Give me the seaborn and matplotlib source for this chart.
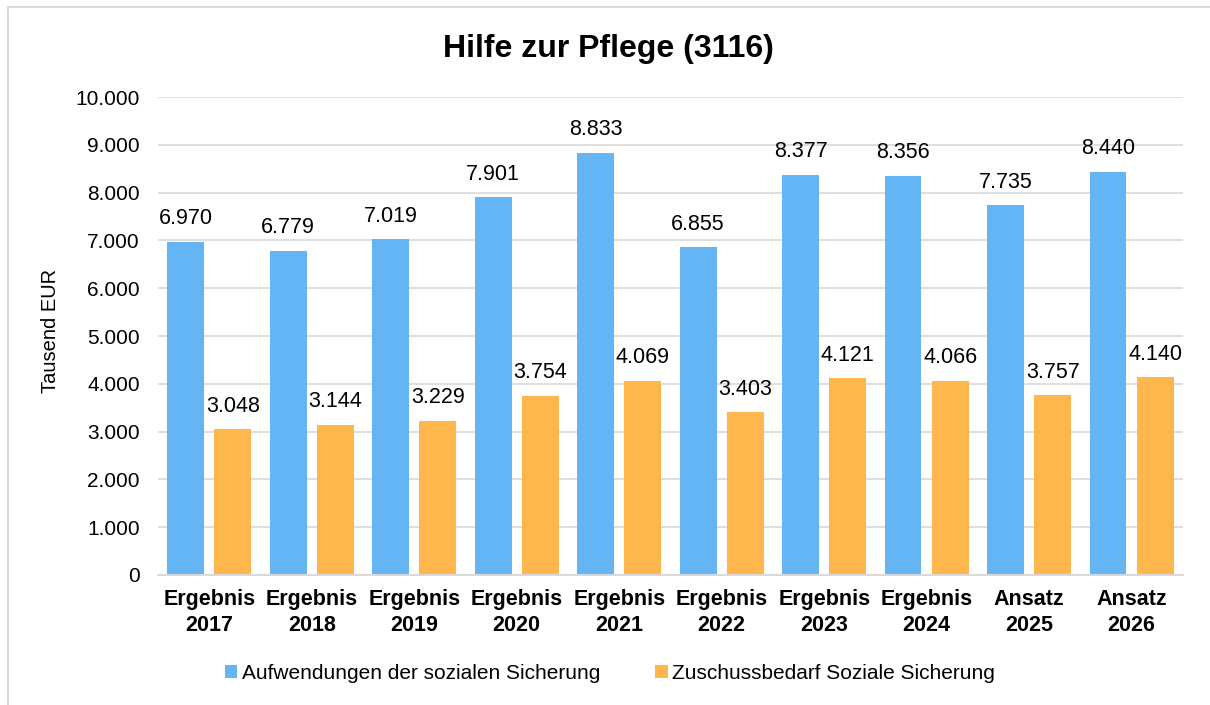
import pandas as pd
import matplotlib.pyplot as plt
import seaborn as sns
from matplotlib.lines import Line2D

categories = ['Ergebnis\n2017', 'Ergebnis\n2018', 'Ergebnis\n2019', 'Ergebnis\n2020', 'Ergebnis\n2021',
              'Ergebnis\n2022', 'Ergebnis\n2023', 'Ergebnis\n2024', 'Ansatz\n2025', 'Ansatz\n2026']
aufwendungen = [6970, 6779, 7019, 7901, 8833, 6855, 8377, 8356, 7735, 8440]
zuschuss = [3048, 3144, 3229, 3754, 4069, 3403, 4121, 4066, 3757, 4140]
series = ['Aufwendungen der sozialen Sicherung', 'Zuschussbedarf Soziale Sicherung']
yticks = [0, 1000, 2000, 3000, 4000, 5000, 6000, 7000, 8000, 9000, 10000]

df = pd.DataFrame({
    'Kategorie': categories * 2,
    'Wert': aufwendungen + zuschuss,
    'Reihe': [series[0]] * len(categories) + [series[1]] * len(categories),
})

sns.set_style('white')
plt.rcParams['font.family'] = ['Liberation Sans', 'DejaVu Sans']
plt.rcParams['text.color'] = 'black'
plt.rcParams['axes.labelcolor'] = 'black'
plt.rcParams['xtick.color'] = 'black'
plt.rcParams['ytick.color'] = 'black'

def fmt(v):
    return f'{v:,.0f}'.replace(',', '.')

fig = plt.figure(figsize=(12.1, 7.05), dpi=100)
ax = fig.add_axes([0.1306, 0.1844, 0.847, 0.678])
sns.barplot(data=df, x='Kategorie', y='Wert', hue='Reihe', palette=['#64B5F6', '#FFB74D'],
            saturation=1, width=0.92, gap=0.22, linewidth=0, ax=ax, legend=True)

for cont in ax.containers:
    ax.bar_label(cont, labels=[fmt(v) for v in cont.datavalues], padding=9, fontsize=15.5)

ax.set_ylim(0, 10000)
ax.set_xlim(-0.5, len(categories) - 0.5)
ax.set_yticks(yticks)
ax.set_yticklabels([fmt(v) for v in yticks], fontsize=15)
ax.set_xticks(range(len(categories)))
ax.set_xticklabels(categories, fontsize=15.5, fontweight='bold', linespacing=1.35)
ax.tick_params(axis='y', length=0, pad=13)
ax.tick_params(axis='x', length=0, pad=10)
ax.grid(axis='y', color='#d9d9d9', linewidth=1.2)
ax.set_axisbelow(True)
ax.set_xlabel('')
ax.set_ylabel('Tausend EUR', fontsize=14.5)
ax.yaxis.set_label_coords(-0.096, 0.51)
for s in ['top', 'right', 'left']:
    ax.spines[s].set_visible(False)
ax.spines['bottom'].set_color('#d9d9d9')
ax.spines['bottom'].set_linewidth(1.5)

ax.legend(loc='center', bbox_to_anchor=(0.504, 0.045), bbox_transform=fig.transFigure, ncol=2,
          frameon=False, fontsize=15, handlelength=0.6, handleheight=0.6, handletextpad=0.2,
          columnspacing=2.65)
fig.suptitle('Hilfe zur Pflege (3116)', fontsize=23, fontweight='bold', x=0.503, y=0.931, va='center')

# light frame only on top and left, like the cropped source
fig.lines.append(Line2D([0.0066, 1.0], [0.990, 0.990], transform=fig.transFigure, color='#d9d9d9', linewidth=1.5))
fig.lines.append(Line2D([0.0066, 0.0066], [0.0, 0.990], transform=fig.transFigure, color='#d9d9d9', linewidth=1.5))
fig.savefig('out.png', dpi=100)
